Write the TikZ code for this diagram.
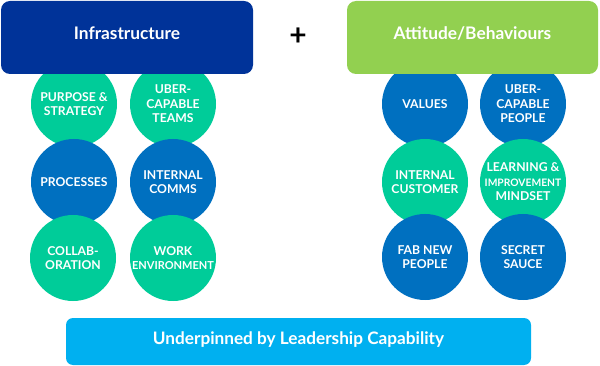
\documentclass[tikz,border=0pt]{standalone}
\usepackage{fontspec}
\setmainfont{Lato}
\definecolor{infra}{RGB}{0,51,153}
\definecolor{attit}{RGB}{146,208,80}
\definecolor{cgreen}{RGB}{0,204,153}
\definecolor{cblue}{RGB}{0,112,192}
\definecolor{under}{RGB}{0,176,240}
\begin{document}
\begin{tikzpicture}[x=1pt,y=-1pt,
  topbox/.style={rounded corners=9pt, minimum width=252pt, minimum height=73pt, text=white, text height=12pt, text depth=8pt, font=\fontsize{17.3}{20}\selectfont\bfseries},
  circ/.style={circle, minimum size=86pt, inner sep=0pt, text=white, align=center, font=\fontsize{12.2}{14.5}\selectfont\bfseries},
  gc/.style={circ, fill=cgreen},
  bc/.style={circ, fill=cblue}]
\useasboundingbox (0,0) rectangle (600,366);
% left circles
\node[gc] (ps) at (74,104) {PURPOSE \&\\STRATEGY};
\node[gc] (ut) at (173,104) {UBER-\\CAPABLE\\TEAMS};
\node[bc] (pr) at (74,182) {PROCESSES};
\node[bc] (ic) at (173,182) {INTERNAL\\COMMS};
\node[gc] (co) at (73,258) {COLLAB-\\ORATION};
\node[gc] (we) at (173,258) {WORK\\\fontsize{11}{14.5}\selectfont ENVIRONMENT};
% right circles
\node[bc] (va) at (425,104) {VALUES};
\node[bc] (up) at (523,104) {UBER-\\CAPABLE\\PEOPLE};
\node[gc] (cu) at (425,182) {INTERNAL\\CUSTOMER};
\node[gc] (lm) at (523,182) {LEARNING \&\\\fontsize{10.3}{13.5}\selectfont IMPROVEMENT\\MINDSET};
\node[bc] (fn) at (425,257) {FAB NEW\\PEOPLE};
\node[bc] (ss) at (523,257) {SECRET\\SAUCE};
% top boxes
\node[topbox, fill=infra] (inf) at (127,37.5) {Infrastructure};
\node[topbox, fill=attit, minimum width=251pt] (att) at (472.5,37.5) {Attitude/Behaviours};
\node[font=\fontsize{30}{30}\selectfont\bfseries] (plus) at (298,37) {+};
% bottom box
\node[rounded corners=7pt, fill=under, minimum width=465pt, minimum height=47pt, text=white, text height=12pt, text depth=7pt, font=\fontsize{17.2}{20}\selectfont\bfseries] (und) at (298.5,341.5) {Underpinned by Leadership Capability};
\end{tikzpicture}
\end{document}
